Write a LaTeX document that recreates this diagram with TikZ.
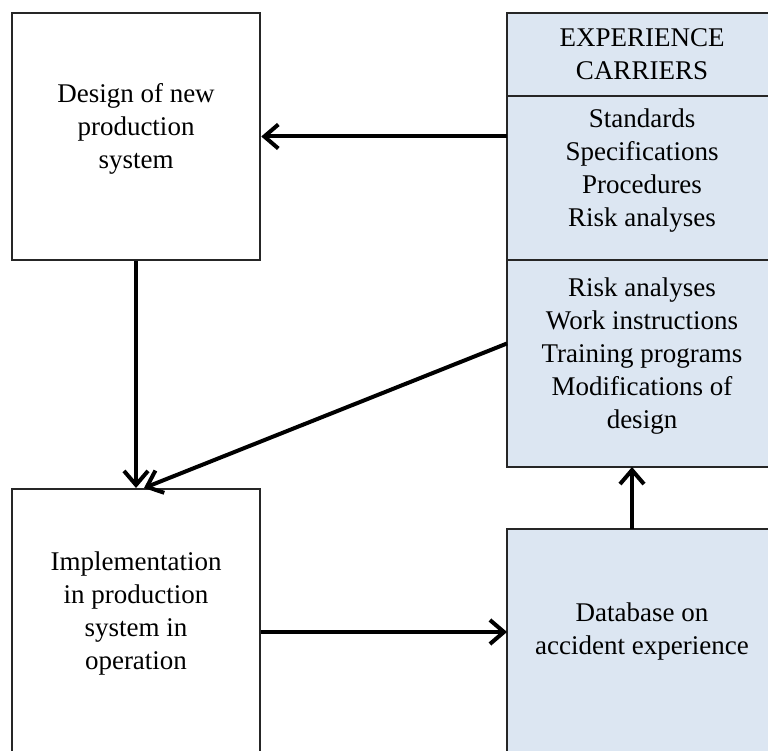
\documentclass[tikz,border=0pt]{standalone}
\usepackage{fontspec}
\setmainfont{Liberation Serif}
\usetikzlibrary{arrows.meta,calc}

\definecolor{carrierblue}{HTML}{DCE6F2}

\tikzset{
    box/.style={draw=black!85, line width=2.5pt, align=center,
        inner sep=0pt, font=\fontsize{27}{33}\selectfont},
    carrier/.style={box, fill=carrierblue, minimum width=270pt, outer sep=0pt},
    lift/.style={text depth=20pt},
    arr/.style={line width=4pt,
        -{Straight Barb[length=14pt,width=24pt,line width=4pt]}},
}

\begin{document}
\begin{tikzpicture}[x=1pt,y=1pt]
    \useasboundingbox (0,0) rectangle (768,751);

    % left column
    \node [box, lift, minimum width=248pt, minimum height=247pt]
        (design) at (136,614.5)
        {Design of new\\production\\system};
    \node [box, minimum width=248pt, minimum height=300pt, anchor=north]
        (impl) at (136,263) {};
    \node [align=center, font=\fontsize{27}{33}\selectfont]
        (impltxt) at (136,137)
        {Implementation\\in production\\system in\\operation};

    % experience carriers, stacked
    \node [carrier, minimum height=83pt, anchor=north]
        (head) at (642,738)
        {EXPERIENCE\\CARRIERS};
    \node [carrier, lift, minimum height=164pt, anchor=north]
        (std) at (head.south)
        {Standards\\Specifications\\Procedures\\Risk analyses};
    \node [carrier, lift, minimum height=207pt, anchor=north]
        (train) at (std.south)
        {Risk analyses\\Work instructions\\Training programs\\Modifications of\\design};

    % database
    \node [carrier, minimum height=300pt, anchor=north]
        (db) at (642,222) {};
    \node [align=center, font=\fontsize{27}{33}\selectfont]
        (dbtxt) at (642,119)
        {Database on\\accident experience};

    % connectors
    \draw [arr] (std.west |- design.east) -- (design.east);
    \draw [arr] (design.south) -- (impl.north);
    \draw [arr] ([yshift=20pt]train.west) -- ([xshift=8pt]impl.north);
    \draw [arr] (impl.east |- dbtxt) -- (db.west |- dbtxt);
    \draw [arr] ([xshift=-10pt]db.north) -- ([xshift=-10pt]train.south);
\end{tikzpicture}
\end{document}
